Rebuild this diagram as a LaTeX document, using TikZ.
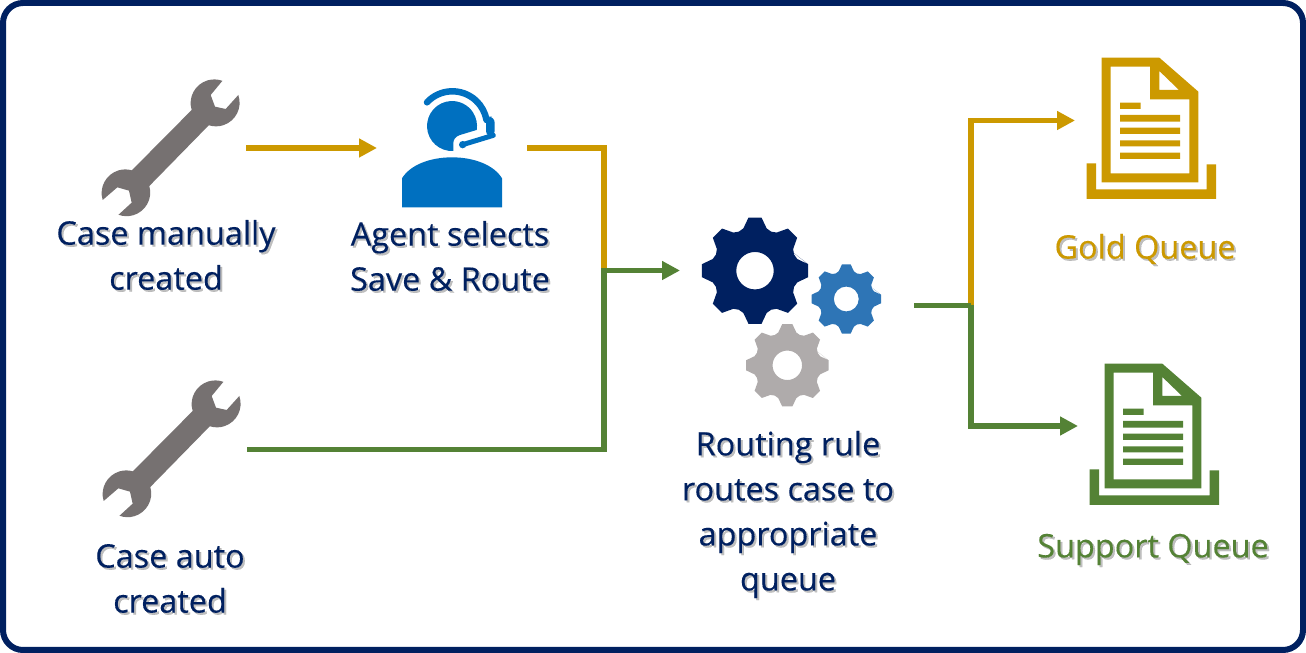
\documentclass[tikz,border=0pt]{standalone}
\usepackage{fontspec}
\setmainfont{Open Sans}[FakeBold=0.25]
\usetikzlibrary{arrows.meta,calc}
\definecolor{navy}{HTML}{002060}
\definecolor{goldq}{HTML}{CC9900}
\definecolor{greenq}{HTML}{548235}
\definecolor{agentblue}{HTML}{0070C0}
\definecolor{gearblue}{HTML}{2E75B6}
\definecolor{geargray}{HTML}{AFABAB}
\definecolor{wrenchgray}{HTML}{767171}
\tikzset{
  goldline/.style={draw=goldq,line width=5.7pt},
  greenline/.style={draw=greenq,line width=5.7pt},
  arrowed/.style={-{Triangle[length=18pt,width=18pt]}},
  labeltext/.style={font=\fontsize{32.4}{45}\selectfont,align=center,inner sep=0pt,anchor=center},
  textshadow/.style={labeltext,text=black!45,opacity=.55},
}
\newcommand{\shtext}[4]{%
  \node[textshadow] (#1s) at ($(#2)+(2,2)$) {#4};
  \node[labeltext,text=#3] (#1) at (#2) {#4};
}
\newcommand{\wrenchicon}[2]{%
  \begin{scope}[shift={(#1,#2)},scale=1/3]
  \fill[wrenchgray] (335,150) arc[start angle=163,end angle=290,radius=71]
    -- (392,105) -- (405,140) -- (437,147) -- (475,105)
    arc[start angle=341,end angle=467.6,radius=71]
    -- (208,378) arc[start angle=344,end angle=470,radius=71]
    -- (155,428) -- (147,392) -- (112,382) -- (68,420)
    arc[start angle=163,end angle=286,radius=71] -- cycle;
  \end{scope}}
\newcommand{\gearicon}[5]{%
  \begin{scope}[shift={(#1,#2)},scale=#3]
  \fill[#5,even odd rule] (-97:1)
    \foreach \k in {0,45,...,315} {
      -- ({\k-7}:1) -- ({\k+7}:1) -- ({\k+15.4}:.82) -- ({\k+22.5}:.79) -- ({\k+29.6}:.82) -- ({\k+38}:1)
    } -- cycle
    (0,0) circle[radius=#4];
  \end{scope}}
\newcommand{\docicon}[3]{%
  \begin{scope}[shift={(#1,#2)},scale=1/3]
  \fill[#3,even odd rule] (95,38) -- (268,38) -- (385,140) -- (385,412) -- (95,412) -- cycle
    (122,65) -- (240,65) -- (240,163) -- (358,163) -- (358,385) -- (122,385) -- cycle
    (268,78) -- (268,135) -- (327,135) -- cycle;
  \fill[#3] (150,173) rectangle (212,192) (150,210) rectangle (330,230)
    (150,248) rectangle (330,267) (150,286) rectangle (330,304) (150,323) rectangle (330,342);
  \fill[#3] (50,355) -- (78,355) -- (78,433) -- (410,433) -- (410,358) -- (438,358) -- (438,462) -- (50,462) -- cycle;
  \end{scope}}
\begin{document}
\begin{tikzpicture}[x=1pt,y=1pt,cm={1,0,0,-1,(0pt,653pt)}]
\useasboundingbox (0,0) rectangle (1306,653);
\fill[white] (0,0) rectangle (1306,653);
\draw[navy,line width=6pt,rounded corners=20pt] (3,3) rectangle (1303,650);

\wrenchicon{80}{60}
\wrenchicon{81}{361}

% agent
\begin{scope}[shift={(380,70)},scale=1/3]
  \fill[agentblue] (66,412) -- (66,325) .. controls (90,285) and (150,262) .. (216,262)
     .. controls (282,262) and (342,285) .. (366,325) -- (366,412) -- cycle;
  \fill[agentblue] (220,243) arc[start angle=87,end angle=369,radius=75]
     -- (240,195) .. controls (225,200) and (220,210) .. (220,220) -- cycle;
  \draw[agentblue,line width=6.5pt,line cap=round] (141,97) arc[start angle=223,end angle=350,radius=104];
  \fill[agentblue,rounded corners=6pt] (318,140) rectangle (344,200);
  \draw[agentblue,line width=5pt,line cap=round] (248,224) -- (340,196);
  \fill[agentblue] (248,224) circle[radius=11];
\end{scope}

\gearicon{755}{270.7}{53.5}{.35}{navy}
\gearicon{846.3}{299}{35}{.355}{gearblue}
\gearicon{787.3}{365.3}{41.5}{.355}{geargray}

\docicon{1070}{45}{goldq}
\docicon{1073}{351}{greenq}

\coordinate (manualEnd) at (246,148);
\coordinate (agentIn) at (377,148);
\coordinate (agentOut) at (527,148);
\coordinate (mergeTop) at (604,148);
\coordinate (merge) at (604,270.5);
\coordinate (autoEnd) at (247,449.5);
\coordinate (mergeBot) at (604,449.5);
\coordinate (gearsIn) at (680,270.5);
\coordinate (gearsOut) at (914,305.5);
\coordinate (split) at (971,305.5);
\coordinate (splitTop) at (971,120.5);
\coordinate (goldIn) at (1075,120.5);
\coordinate (splitBot) at (971,426);
\coordinate (supportIn) at (1078,426);

\draw[goldline,arrowed] (manualEnd) -- (agentIn);
\draw[goldline] (agentOut) -- (mergeTop) -- (merge);
\draw[greenline,arrowed] (autoEnd) -- (mergeBot) -- (merge) -- (gearsIn);
\draw[goldline,arrowed] (split) -- (splitTop) -- (goldIn);
\draw[greenline,arrowed] (split) -- (splitBot) -- (supportIn);
\draw[greenline] (gearsOut) -- (split);

\coordinate (p1) at (166,255);
\coordinate (p2) at (450,256);
\coordinate (p3) at (170,578.5);
\coordinate (p4) at (788,514.5);
\coordinate (p5) at (1145,249);
\coordinate (p6) at (1153,549.5);
\shtext{manual}{p1}{navy}{Case manually\\created}
\shtext{agent}{p2}{navy}{Agent selects\\Save \& Route}
\shtext{auto}{p3}{navy}{Case auto\\created}
\shtext{routing}{p4}{navy}{Routing rule\\routes case to\\appropriate\\queue}
\shtext{gold}{p5}{goldq}{Gold Queue}
\shtext{support}{p6}{greenq}{Support Queue}
\end{tikzpicture}
\end{document}
